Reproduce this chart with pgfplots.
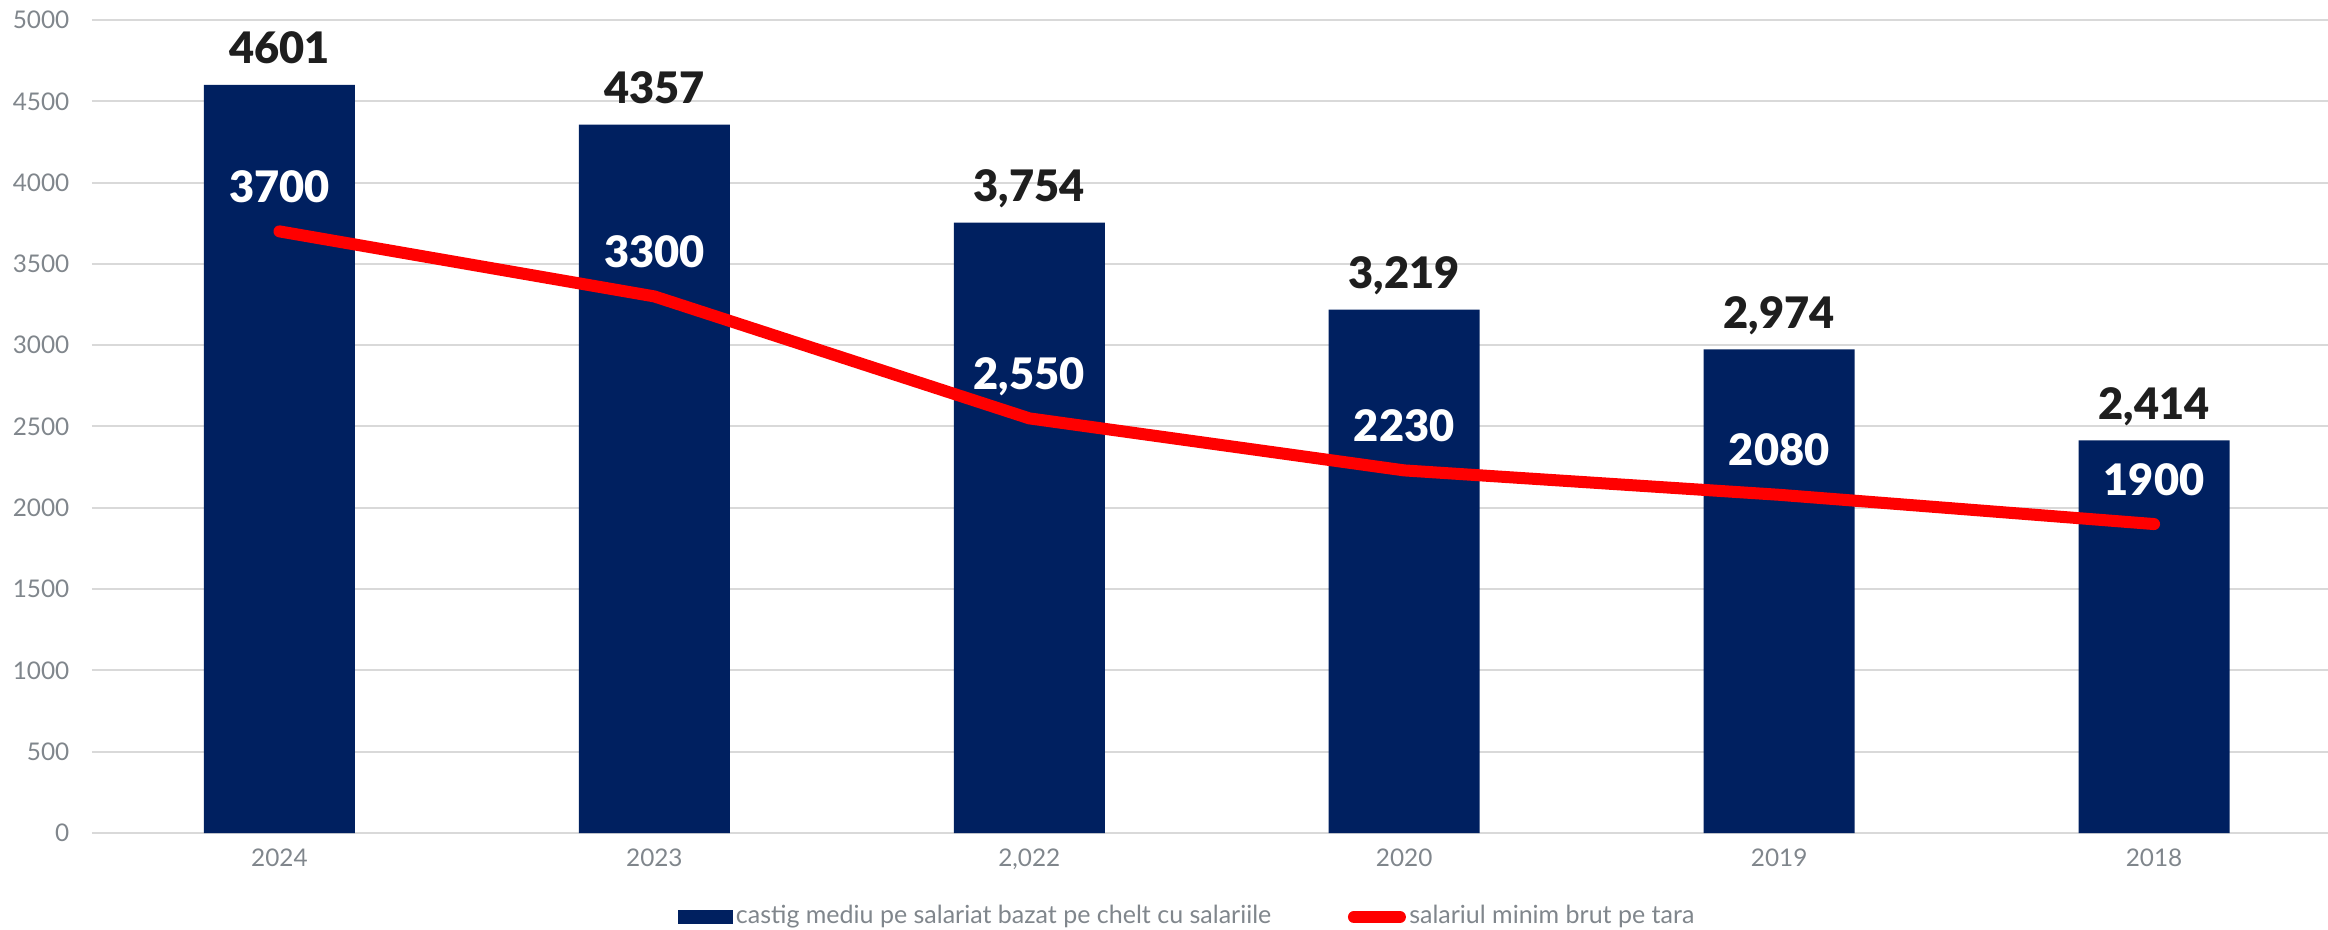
\documentclass[border=0pt]{standalone}
\usepackage{pgfplots}
\pgfplotsset{compat=1.18}
\usepackage{pgfplotstable}
\usepackage{fontspec}
\setmainfont{Lato}
\newfontfamily\lblfont{Lato Black}
\definecolor{navy}{RGB}{0,32,96}
\definecolor{tickgray}{RGB}{128,134,140}
\definecolor{gridgray}{RGB}{217,217,217}
\definecolor{lblblack}{RGB}{30,30,30}
\definecolor{linered}{RGB}{255,0,0}

\pgfplotstableread{
x y lab
0 4601 4601
1 4357 4357
2 3754 3,754
3 3219 3,219
4 2974 2,974
5 2414 2,414
}\bars

\pgfplotstableread{
x y lab
0 3700 3700
1 3300 3300
2 2550 2,550
3 2230 2230
4 2080 2080
5 1900 1900
}\minwage

\begin{document}
\begin{tikzpicture}
\useasboundingbox (-27.6bp,-29.1bp) rectangle (670.8bp,249.9bp);
\begin{axis}[
  scale only axis,
  width=670.8bp, height=243.9bp,
  xmin=-0.5, xmax=5.464, ymin=0, ymax=5000,
  axis line style={draw=none},
  tick style={draw=none},
  major tick length=0pt,
  ymajorgrids,
  grid style={gridgray, line width=0.6bp},
  ytick={0,500,...,5000},
  xtick={0,1,2,3,4,5},
  xticklabels={2024,2023,{2,022},2020,2019,2018},
  /pgf/number format/assume math mode=true,
  /pgf/number format/1000 sep={},
  ticklabel style={font=\fontsize{7.3bp}{8bp}\selectfont, text=tickgray},
  yticklabel style={anchor=east, inner sep=0pt, xshift=-6.6bp},
  xticklabel style={anchor=north, inner sep=0pt, yshift=-4.6bp},
  clip=false,
  legend columns=2,
  legend style={draw=none, fill=none, at={(0.49,0)}, anchor=center, yshift=-25.2bp,
    font=\fontsize{7.5bp}{8bp}\selectfont, text=tickgray, inner sep=0pt,
    /tikz/every even column/.append style={column sep=22bp},
    nodes={inner sep=1bp}},
  legend cell align=left,
]
\addplot[ybar, fill=navy, draw=none, bar width=45.3bp,
  nodes near coords, point meta=explicit symbolic,
  nodes near coords style={font=\lblfont\fontsize{13bp}{13bp}\selectfont, text=lblblack, anchor=base, inner sep=0pt, yshift=6.3bp},
  legend image code/.code={\fill[navy] (0bp,-1.95bp) rectangle (16.5bp,1.95bp);}
] table[x=x, y=y, meta=lab] {\bars};
\addlegendentry{castig mediu pe salariat bazat pe chelt cu salariile}
\addplot[linered, line width=3.6bp, line cap=round, line join=round, mark=none,
  nodes near coords, point meta=explicit symbolic,
  nodes near coords style={font=\lblfont\fontsize{13bp}{13bp}\selectfont, text=white, anchor=base, inner sep=0pt, yshift=8.7bp},
  legend image code/.code={\draw[linered, line width=3.6bp, line cap=round] (1.8bp,0bp) -- (15.6bp,0bp);}
] table[x=x, y=y, meta=lab] {\minwage};
\addlegendentry{salariul minim brut pe tara}
\end{axis}
\end{tikzpicture}
\end{document}
